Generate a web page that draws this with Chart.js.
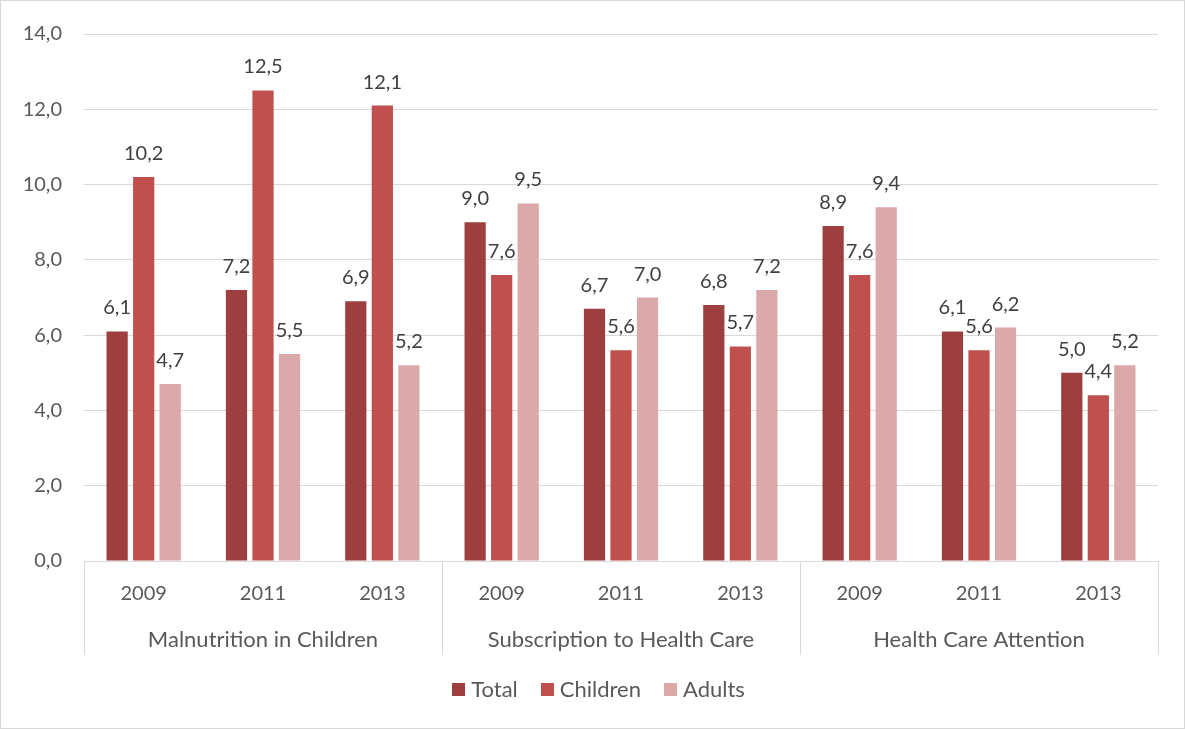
<!DOCTYPE html>
<html><head><meta charset="utf-8">
<script src="https://cdn.jsdelivr.net/npm/chart.js@4.4.0/dist/chart.umd.min.js"></script>
<style>html,body{margin:0;padding:0;background:#fff;}#wrap{width:1185px;height:729px;}</style>
</head><body><div id="wrap"><canvas id="c" width="1185" height="729"></canvas></div>
<script>
const groups = ['Malnutrition in Children', 'Subscription to Health Care', 'Health Care Attention'];
const years = ['2009', '2011', '2013'];
const categories = ['2009', '2011', '2013', '2009', '2011', '2013', '2009', '2011', '2013'];
const totalValues = [6.1, 7.2, 6.9, 9.0, 6.7, 6.8, 8.9, 6.1, 5.0];
const childrenValues = [10.2, 12.5, 12.1, 7.6, 5.6, 5.7, 7.6, 5.6, 4.4];
const adultsValues = [4.7, 5.5, 5.2, 9.5, 7.0, 7.2, 9.4, 6.2, 5.2];
const yTicks = [0, 2, 4, 6, 8, 10, 12, 14];

const FONT = 'Lato, "Open Sans", sans-serif';
const NUM_SIZE = 20;
const TEXT_SIZE = 22;
const fmt = v => v.toFixed(1).replace('.', ',');

const bgPlugin = {
  id: 'bg',
  beforeDraw(chart) {
    const c = chart.ctx;
    c.save();
    c.fillStyle = '#fff';
    c.fillRect(0, 0, chart.width, chart.height);
    c.strokeStyle = '#d9d9d9';
    c.lineWidth = 1;
    c.strokeRect(0.5, 0.5, chart.width - 1, chart.height - 1);
    c.restore();
  }
};

const groupPlugin = {
  id: 'groups',
  afterDraw(chart) {
    const c = chart.ctx;
    const xs = chart.scales.x;
    const bottom = chart.chartArea.bottom;
    const step = xs.width / categories.length;
    c.save();
    c.strokeStyle = '#d9d9d9';
    c.lineWidth = 1;
    for (let g = 0; g <= groups.length; g++) {
      const x = Math.round(xs.left + g * 3 * step) + 0.5;
      c.beginPath();
      c.moveTo(x, bottom);
      c.lineTo(x, bottom + 94);
      c.stroke();
    }
    c.fillStyle = '#595959';
    c.font = TEXT_SIZE + 'px ' + FONT;
    c.textAlign = 'center';
    c.textBaseline = 'middle';
    groups.forEach((gname, g) => {
      const x = xs.left + (g * 3 + 1.5) * step;
      c.fillText(gname, x, bottom + 79);
    });

    // legend
    const items = chart.data.datasets.map(ds => ({ label: ds.label, color: ds.backgroundColor }));
    const box = 13, gapBox = 6, gapItem = 23;
    c.font = TEXT_SIZE + 'px ' + FONT;
    const widths = items.map(it => box + gapBox + c.measureText(it.label).width);
    const total = widths.reduce((a, b) => a + b, 0) + gapItem * (items.length - 1);
    let x = chart.width / 2 + 6 - total / 2;
    const cy = 690;
    c.textAlign = 'left';
    items.forEach((it, i) => {
      c.fillStyle = it.color;
      c.fillRect(Math.round(x), cy - 7, box, box);
      c.fillStyle = '#595959';
      c.fillText(it.label, x + box + gapBox, cy);
      x += widths[i] + gapItem;
    });
    c.restore();
  }
};

const labelPlugin = {
  id: 'labels',
  afterDatasetsDraw(chart) {
    const c = chart.ctx;
    c.save();
    c.fillStyle = '#404040';
    c.font = NUM_SIZE + 'px ' + FONT;
    c.textAlign = 'center';
    c.textBaseline = 'alphabetic';
    chart.data.datasets.forEach((ds, i) => {
      const meta = chart.getDatasetMeta(i);
      meta.data.forEach((el, j) => {
        c.fillText(fmt(ds.data[j]), el.x, el.y - 17);
      });
    });
    c.restore();
  }
};

new Chart(document.getElementById('c'), {
  type: 'bar',
  data: {
    labels: categories,
    datasets: [
      { label: 'Total', data: totalValues, backgroundColor: '#9e3f3f' },
      { label: 'Children', data: childrenValues, backgroundColor: '#c0504d' },
      { label: 'Adults', data: adultsValues, backgroundColor: '#dba9a9' }
    ]
  },
  options: {
    responsive: false,
    animation: false,
    devicePixelRatio: 1,
    layout: { padding: { top: 22, right: 27, left: 0, bottom: 68 } },
    datasets: { bar: { barPercentage: 0.8, categoryPercentage: 0.667, borderWidth: 0 } },
    plugins: {
      tooltip: { enabled: false },
      legend: { display: false }
    },
    scales: {
      x: {
        grid: { display: false },
        border: { color: '#d9d9d9' },
        ticks: { color: '#595959', font: { family: FONT, size: NUM_SIZE }, padding: 13 },
        afterFit(s) { s.height = 100; }
      },
      y: {
        min: 0, max: 14,
        afterBuildTicks(s) { s.ticks = yTicks.map(v => ({ value: v })); },
        grid: { color: '#d9d9d9', drawTicks: false },
        border: { display: false },
        ticks: { color: '#595959', font: { family: FONT, size: NUM_SIZE }, padding: 22, callback: v => fmt(v) },
        afterFit(s) { s.width = 84; }
      }
    }
  },
  plugins: [bgPlugin, groupPlugin, labelPlugin]
});
</script></body></html>
